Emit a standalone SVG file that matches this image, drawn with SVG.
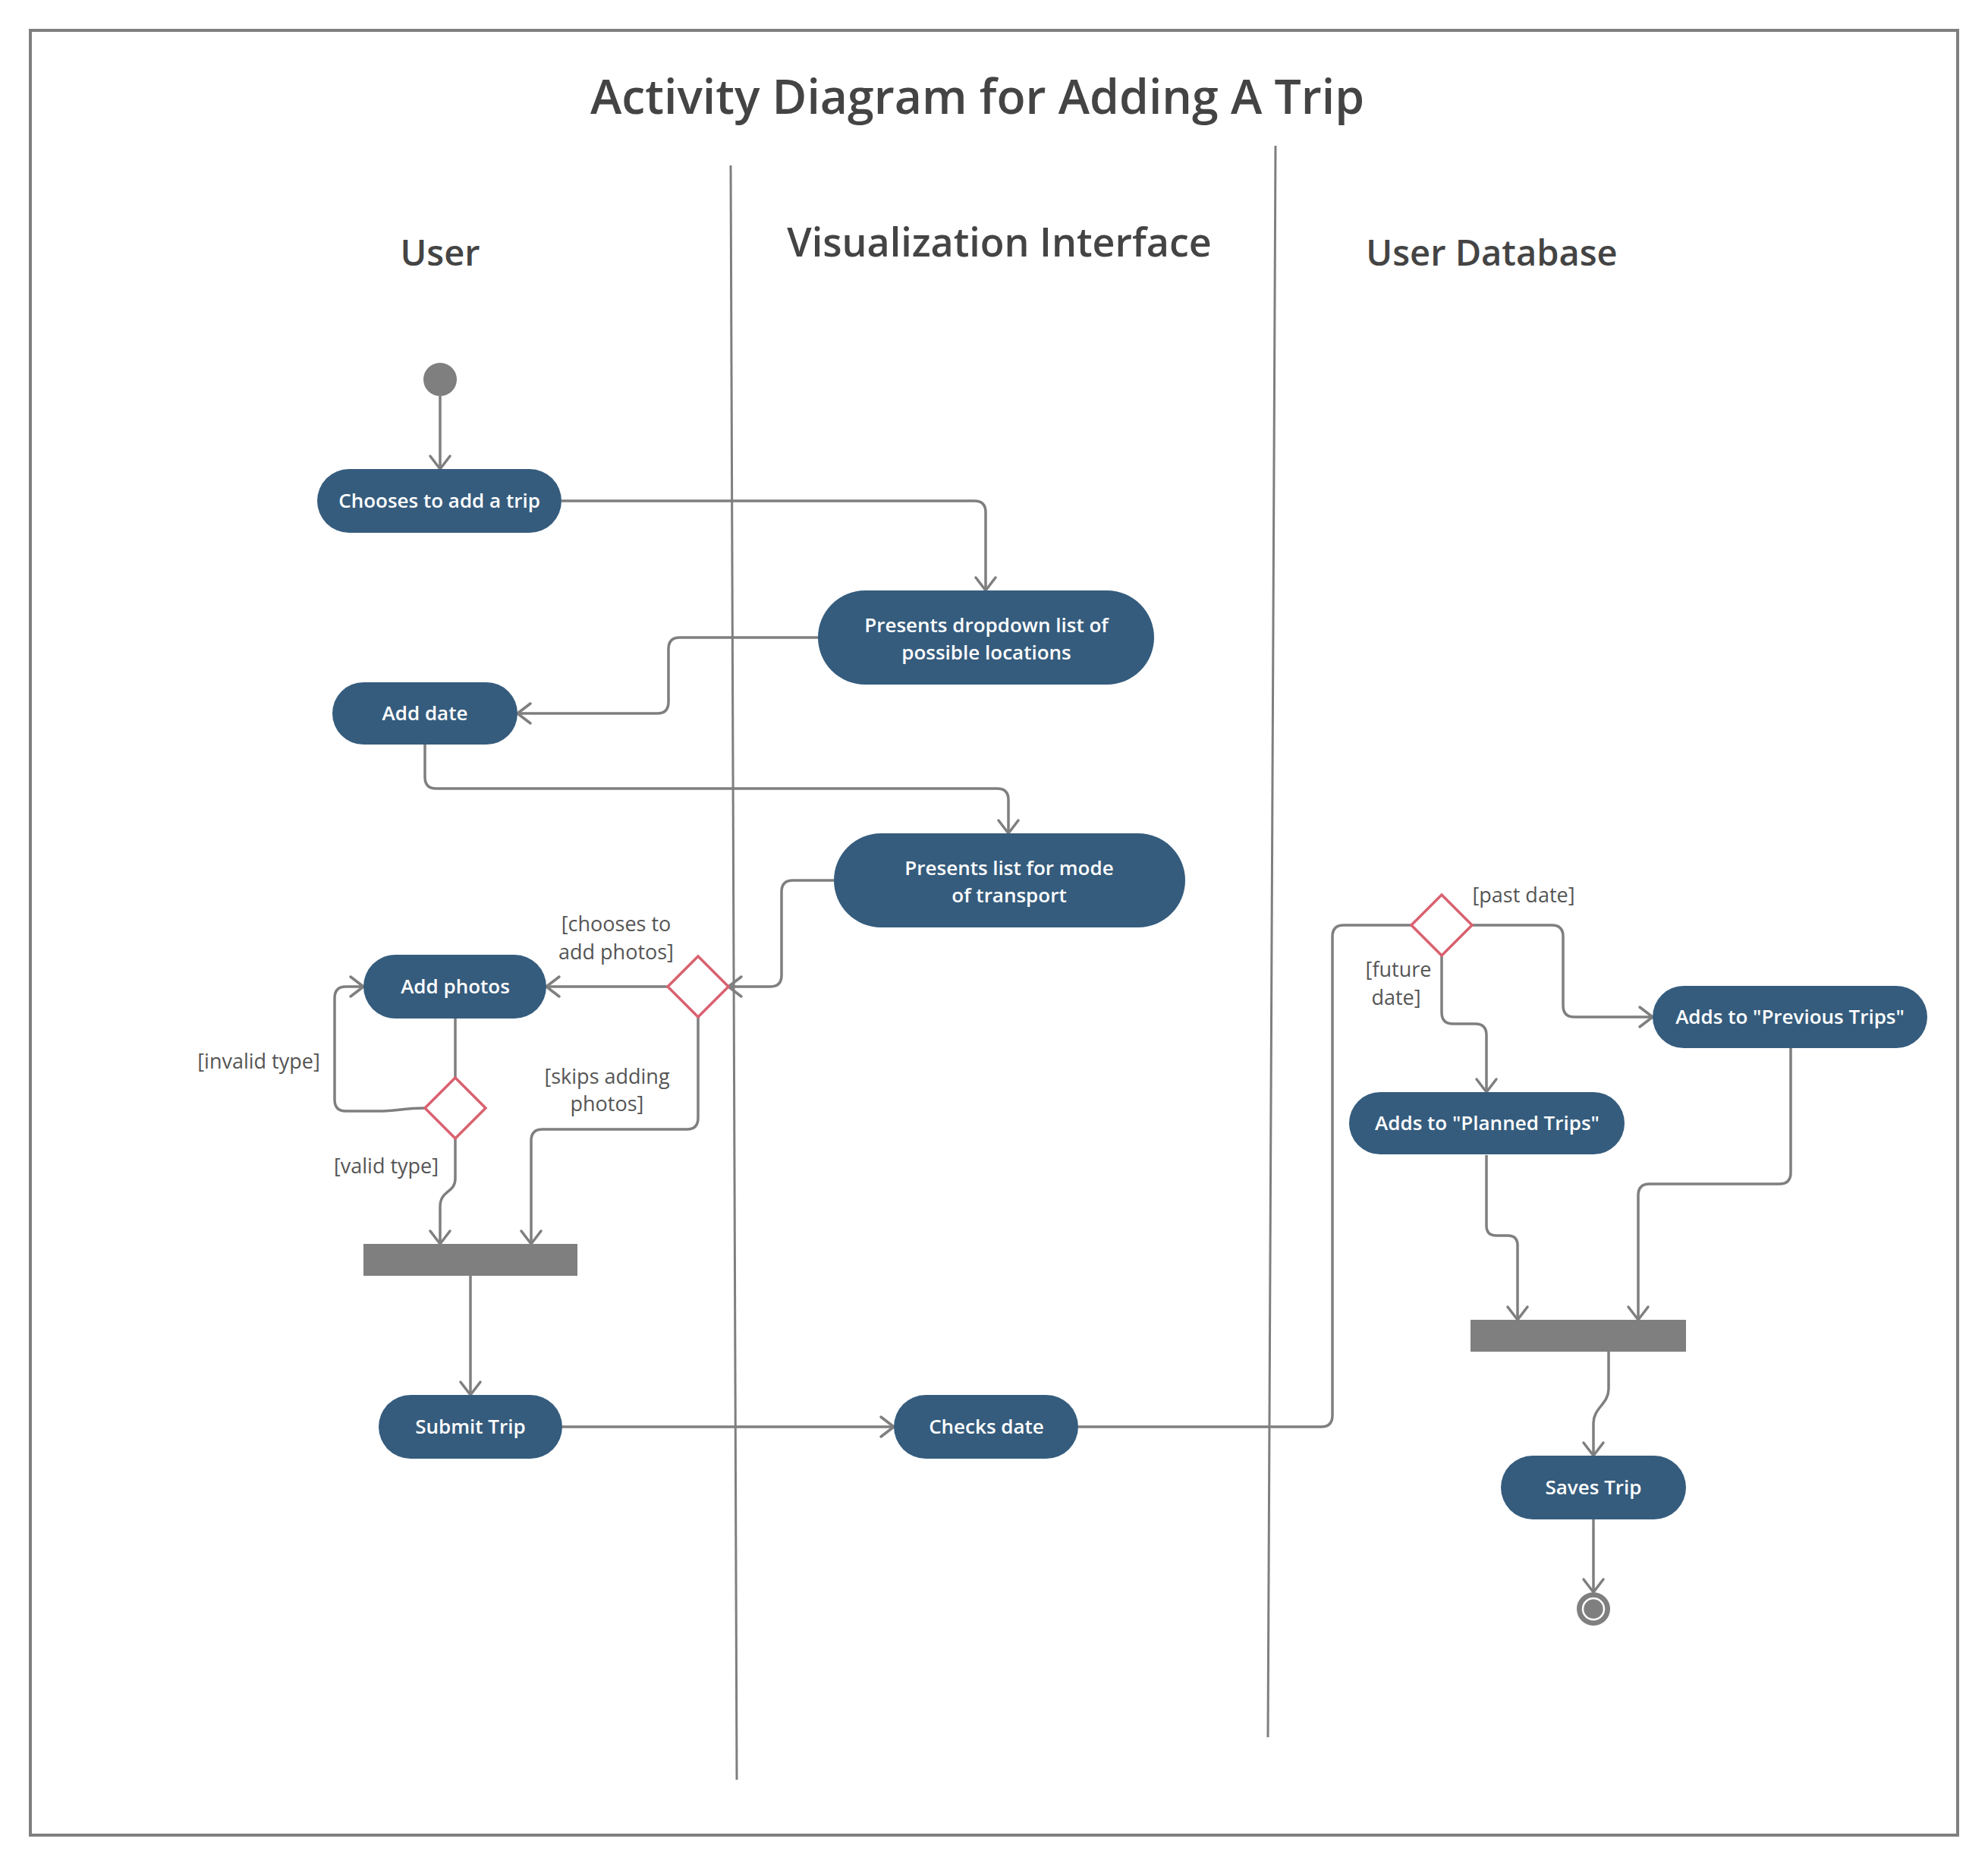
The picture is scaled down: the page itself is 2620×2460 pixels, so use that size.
<svg xmlns="http://www.w3.org/2000/svg" width="2620" height="2460" viewBox="0 0 2620 2460">
<defs>
<marker id="arr" markerUnits="userSpaceOnUse" markerWidth="40" markerHeight="40" viewBox="-20 -20 40 40" refX="0" refY="0" orient="auto">
<path d="M-17,-13 L0,0 L-17,13" fill="none" stroke="#7f7f7f" stroke-width="3.5" stroke-linecap="round" stroke-linejoin="round"/>
</marker>
</defs>
<style>
.frame{fill:#fff;stroke:#7f7f7f;stroke-width:4}
.lane{stroke:#7f7f7f;stroke-width:3;fill:none}
.title{font-family:"Open Sans","Noto Sans",sans-serif;font-weight:600;fill:#444;text-anchor:middle}
.act{fill:#355c7d}
.at{font-family:"Open Sans","Noto Sans",sans-serif;font-weight:600;font-size:26px;fill:#fff;text-anchor:middle}
.lbl{font-family:"Open Sans","Noto Sans",sans-serif;font-size:27px;fill:#555;text-anchor:middle}
.dec{fill:#fff;stroke:#d9616f;stroke-width:3.5}
.bar{fill:#7f7f7f}
.c{fill:none;stroke:#7f7f7f;stroke-width:3.5;stroke-linejoin:round}
.ca{fill:none;stroke:#7f7f7f;stroke-width:3.5;stroke-linejoin:round;marker-end:url(#arr)}
</style>
<rect class="frame" x="40" y="40" width="2540" height="2378"/>
<text class="title" x="1288" y="150" font-size="62.5">Activity Diagram for Adding A Trip</text>
<g id="lanes">
<line class="lane" x1="963" y1="218" x2="971" y2="2345"/>
<line class="lane" x1="1681" y1="192" x2="1671" y2="2289"/>
<text class="title" x="580" y="350" font-size="47">User</text>
<text class="title" x="1317" y="338" font-size="52">Visualization Interface</text>
<text class="title" x="1966" y="350" font-size="47">User Database</text>
</g>
<g id="connectors">
<path class="ca" d="M580,522 L580,618"/>
<path class="ca" d="M740,660 L1284,660 Q1299,660 1299,675 L1299,778"/>
<path class="ca" d="M1078,840 L896,840 Q881,840 881,855 L881,925 Q881,940 866,940 L682,940"/>
<path class="ca" d="M560,981 L560,1024 Q560,1039 575,1039 L1314,1039 Q1329,1039 1329,1054 L1329,1098"/>
<path class="ca" d="M1099,1160 L1045,1160 Q1030,1160 1030,1175 L1030,1285 Q1030,1300 1015,1300 L960,1300"/>
<path class="ca" d="M880,1300 L720,1300"/>
<path class="ca" d="M560,1460 C532,1460 522,1464 500,1464 L456,1464 Q441,1464 441,1449 L441,1315 Q441,1300 456,1300 L479,1300"/>
<path class="c" d="M600,1342 L600,1420"/>
<path class="ca" d="M600,1500 L600,1553 C600,1572 580,1568 580,1590 L580,1639"/>
<path class="ca" d="M920,1340 L920,1473 Q920,1488 905,1488 L715,1488 Q700,1488 700,1503 L700,1639"/>
<path class="ca" d="M620,1681 L620,1838"/>
<path class="ca" d="M741,1880 L1178,1880"/>
<path class="c" d="M1421,1880 L1741,1880 Q1756,1880 1756,1865 L1756,1234 Q1756,1219 1771,1219 L1860,1219"/>
<path class="ca" d="M1940,1219 L2045,1219 Q2060,1219 2060,1234 L2060,1325 Q2060,1340 2075,1340 L2178,1340"/>
<path class="ca" d="M1900,1259 L1900,1334 Q1900,1349 1915,1349 L1944,1349 Q1959,1349 1959,1364 L1959,1439"/>
<path class="ca" d="M1959,1522 L1959,1615 Q1959,1628 1972,1628 L1987,1628 Q2000,1628 2000,1641 L2000,1739"/>
<path class="ca" d="M2360,1381 L2360,1545 Q2360,1560 2345,1560 L2174,1560 Q2159,1560 2159,1575 L2159,1739"/>
<path class="ca" d="M2120,1781 L2120,1830 C2120,1850 2100,1855 2100,1875 L2100,1918"/>
<path class="ca" d="M2100,2002 L2100,2098"/>
</g>
<g id="start"><circle cx="580" cy="500" r="22" fill="#7f7f7f"/></g>
<g id="chooses"><rect class="act" x="418" y="618" width="322" height="84" rx="42"/><text class="at" x="579" y="669">Chooses to add a trip</text></g>
<g id="dropdown"><rect class="act" x="1078" y="778" width="443" height="124" rx="62"/><text class="at" x="1300" y="833">Presents dropdown list of</text><text class="at" x="1300" y="869">possible locations</text></g>
<g id="adddate"><rect class="act" x="438" y="899" width="244" height="82" rx="41"/><text class="at" x="560" y="949">Add date</text></g>
<g id="transport"><rect class="act" x="1099" y="1098" width="463" height="124" rx="62"/><text class="at" x="1330" y="1153">Presents list for mode</text><text class="at" x="1330" y="1189">of transport</text></g>
<g id="addphotos"><rect class="act" x="479" y="1258" width="241" height="84" rx="42"/><text class="at" x="600" y="1309">Add photos</text></g>
<g id="d1"><polygon class="dec" points="920,1260 960,1300 920,1340 880,1300"/></g>
<g id="d2"><polygon class="dec" points="600,1420 640,1460 600,1500 560,1460"/></g>
<g id="bar1"><rect class="bar" x="479" y="1639" width="282" height="42"/></g>
<g id="submit"><rect class="act" x="499" y="1838" width="242" height="84" rx="42"/><text class="at" x="620" y="1889">Submit Trip</text></g>
<g id="checks"><rect class="act" x="1178" y="1838" width="243" height="84" rx="42"/><text class="at" x="1300" y="1889">Checks date</text></g>
<g id="d3"><polygon class="dec" points="1900,1179 1940,1219 1900,1259 1860,1219"/></g>
<g id="previous"><rect class="act" x="2178" y="1299" width="362" height="82" rx="41"/><text class="at" x="2359" y="1349">Adds to "Previous Trips"</text></g>
<g id="planned"><rect class="act" x="1778" y="1439" width="363" height="82" rx="41"/><text class="at" x="1960" y="1489">Adds to "Planned Trips"</text></g>
<g id="bar2"><rect class="bar" x="1938" y="1739" width="284" height="42"/></g>
<g id="saves"><rect class="act" x="1978" y="1918" width="244" height="84" rx="42"/><text class="at" x="2100" y="1969">Saves Trip</text></g>
<g id="end"><circle cx="2100" cy="2120" r="22" fill="#7f7f7f"/><circle cx="2100" cy="2120" r="14" fill="#7f7f7f" stroke="#fff" stroke-width="2.5"/></g>
<g id="labels">
<text class="lbl" x="812" y="1227">[chooses to</text>
<text class="lbl" x="812" y="1264">add photos]</text>
<text class="lbl" x="341" y="1408">[invalid type]</text>
<text class="lbl" x="509" y="1546">[valid type]</text>
<text class="lbl" x="800" y="1428">[skips adding</text>
<text class="lbl" x="800" y="1464">photos]</text>
<text class="lbl" x="2008" y="1189">[past date]</text>
<text class="lbl" x="1843" y="1287">[future</text>
<text class="lbl" x="1840" y="1324">date]</text>
</g>
</svg>
